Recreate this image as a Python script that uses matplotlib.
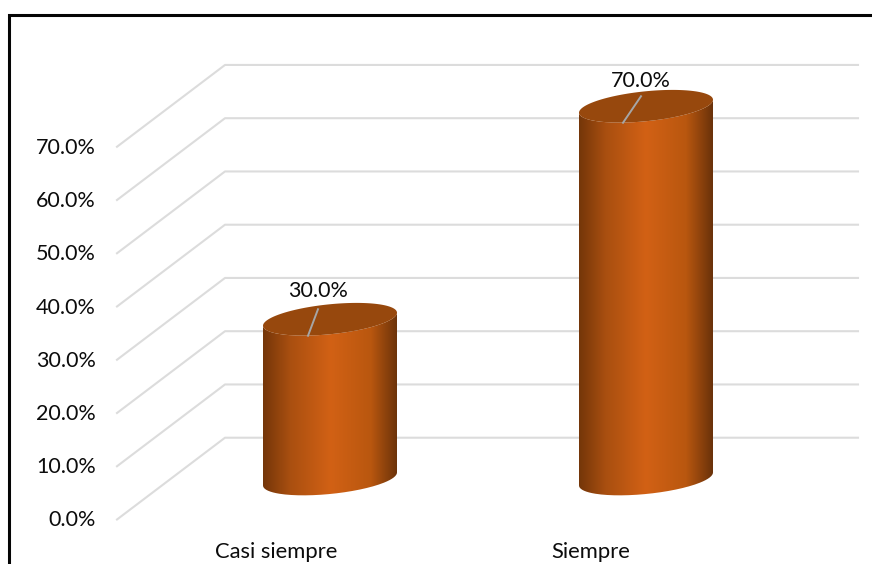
import matplotlib
matplotlib.use('Agg')
import matplotlib.pyplot as plt
import numpy as np
from matplotlib.colors import LinearSegmentedColormap
from matplotlib.path import Path
from matplotlib.patches import PathPatch, Polygon

categories = ['Casi siempre', 'Siempre']
values = [30.0, 70.0]
tick_values = [0, 10, 20, 30, 40, 50, 60, 70]

# layout in pixels
FLOOR_FRONT_Y = 519.5
FLOOR_BACK_Y = 437.7
PX_PER_UNIT = 5.325
WALL_X = 225
FRONT_X = 117
RIGHT_X = 858
BASE_Y = 479
BAR_CENTERS = [330, 646]
CAT_X = [276, 591]
LEADER_DX = [(-22, -12), (-23, -5)]
LABEL_DY = [-28, -25]
HALF_W = 67
TILT = 6.5
MINOR = 15.0

plt.rcParams['font.family'] = ['Lato', 'DejaVu Sans']

fig = plt.figure(figsize=(8.72, 5.64), dpi=100)
ax = fig.add_axes([0, 0, 1, 1])
ax.axis('off')

# outer frame, open at the bottom
ax.plot([9.3, 9.3, 872], [564, 15, 15], color='#050505', lw=2.2, solid_joinstyle='miter')

# wall gridlines with the slanted floor part
for v in tick_values:
    dy = v * PX_PER_UNIT
    ax.plot([FRONT_X, WALL_X, RIGHT_X], [FLOOR_FRONT_Y - dy, FLOOR_BACK_Y - dy, FLOOR_BACK_Y - dy],
            color='#dcdcdc', lw=1.5, zorder=1)
    ax.text(96, FLOOR_FRONT_Y - dy + 1, '%.1f%%' % v, ha='right', va='center', fontsize=15.5, color='#0c0c0c')

shade = LinearSegmentedColormap.from_list('cyl', [(0, '#743609'), (0.2, '#a94f10'), (0.5, '#d26115'),
                                                 (0.8, '#b9570f'), (1, '#6a320a')])
grad = np.linspace(0, 1, 256).reshape(1, -1)


def rim(cx, cy, t):
    return np.column_stack([cx + HALF_W * np.cos(t), cy - TILT * np.cos(t) - MINOR * np.sin(t)])


for i, (cx, val, cat) in enumerate(zip(BAR_CENTERS, values, categories)):
    top = BASE_Y - val * PX_PER_UNIT

    # cylinder wall: front half of the base rim, back up to the top rim
    lower = rim(cx, BASE_Y, np.linspace(np.pi, 2 * np.pi, 80))
    upper = rim(cx, top, np.linspace(2 * np.pi, np.pi, 80))
    body = np.vstack([lower, upper, lower[:1]])
    clip = PathPatch(Path(body), transform=ax.transData, fc='none', ec='none')
    ax.add_patch(clip)
    im = ax.imshow(grad, cmap=shade, extent=[cx - HALF_W, cx + HALF_W, BASE_Y + 20, top - 20],
                   aspect='auto', zorder=3, interpolation='bilinear')
    im.set_clip_path(clip)

    ax.add_patch(Polygon(rim(cx, top, np.linspace(0, 2 * np.pi, 160)), closed=True,
                         fc='#97480d', ec='none', zorder=4))

    dx0, dx1 = LEADER_DX[i]
    ax.plot([cx + dx0, cx + dx1], [top + 16.5, top - 10], color='#a6a6a6', lw=1.4, zorder=5)
    ax.text(cx + dx1, top + LABEL_DY[i], '%.1f%%' % val, ha='center', va='center',
            fontsize=15.5, color='#0c0c0c', zorder=6)
    ax.text(CAT_X[i], 552, cat, ha='center', va='center', fontsize=15.8, color='#0c0c0c')

ax.set_xlim(0, 872)
ax.set_ylim(564, 0)
fig.savefig('out.png', dpi=100)
